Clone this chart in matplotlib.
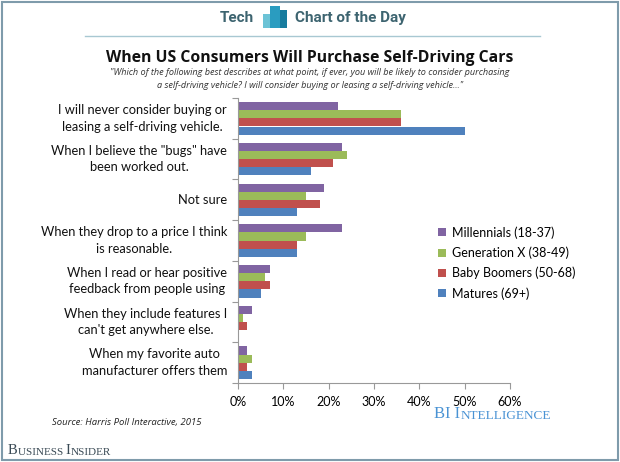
import numpy as np
import matplotlib.pyplot as plt
from matplotlib.patches import Rectangle
from matplotlib.lines import Line2D
import matplotlib.transforms as mtransforms

categories = [
    "I will never consider buying or\nleasing a self-driving vehicle.",
    "When I believe the \"bugs\" have\nbeen worked out.",
    "Not sure",
    "When they drop to a price I think\nis reasonable.",
    "When I read or hear positive\nfeedback from people using",
    "When they include features I\ncan't get anywhere else.",
    "When my favorite auto\nmanufacturer offers them",
]
millennials = [22, 23, 19, 23, 7, 3, 2]
gen_x = [36, 24, 15, 15, 6, 1, 3]
boomers = [36, 21, 18, 13, 7, 2, 2]
matures = [50, 16, 13, 13, 5, 0, 3]
series_names = ["Millennials (18-37)", "Generation X (38-49)",
                "Baby Boomers (50-68)", "Matures (69+)"]
colors = ["#8064A2", "#9BBB59", "#C0504D", "#4F81BD"]
xticks = [0, 10, 20, 30, 40, 50, 60]

W, H = 620, 462
fig = plt.figure(figsize=(W / 100, H / 100), dpi=100)
fig.patch.set_facecolor("white")

def fx(px):
    return px / W

def fy(py):
    return 1 - py / H

# frame around whole image
fig.patches.append(Rectangle((0.003, 0.004), 0.994, 0.992, transform=fig.transFigure,
                             fill=False, edgecolor="#7f9bab", linewidth=1.5))

# header
fig.text(fx(254), fy(18), "Tech", ha="right", va="center", fontsize=11,
         family="Roboto", weight="bold", color="#3d6470")
for dx, top, w, c in [(0, 14, 7, "#6cc3d6"), (7, 6, 10, "#2a9cc0"), (17, 10, 7, "#177c9e")]:
    fig.patches.append(Rectangle((fx(263 + dx), fy(28)), w / W, (28 - top) / H,
                                 transform=fig.transFigure, facecolor=c, edgecolor="none"))
fig.text(fx(295), fy(18), "Chart of the Day", ha="left", va="center", fontsize=11,
         family="Roboto", weight="bold", color="#3d6470")
fig.lines.append(Line2D([fx(85), fx(540)], [fy(36), fy(36)], transform=fig.transFigure,
                        color="#a8c8d2", linewidth=1))

fig.text(fx(310), fy(58), "When US Consumers Will Purchase Self-Driving Cars", ha="center",
         va="center", fontsize=11.3, family="Open Sans", weight="bold", color="#111111")
fig.text(fx(310), fy(79), "\"Which of the following best describes at what point, if ever, you will be likely to consider purchasing\n"
         "a self-driving vehicle? I will consider buying or leasing a self-driving vehicle...\"",
         ha="center", va="center", fontsize=6.6, family="Open Sans", style="italic",
         color="#333333", linespacing=1.5)

ax = fig.add_axes([fx(238), fy(383), fx(510) - fx(238), (383 - 98) / H])
y = np.arange(len(categories))
bar_h = 0.2
for i, (vals, name, c) in enumerate(zip([millennials, gen_x, boomers, matures], series_names, colors)):
    ax.barh(y - 0.3 + i * bar_h, vals, height=bar_h, color=c, label=name)

ax.set_xlim(0, 60)
ax.set_ylim(len(categories) - 0.5, -0.5)
ax.set_xticks(xticks)
ax.set_xticklabels([f"{t}%" for t in xticks], fontsize=9, family="Lato")
ax.set_yticks(np.arange(len(categories) + 1) - 0.5)
ax.set_yticklabels([])
ax.tick_params(axis="y", length=4, color="#999999")
ax.tick_params(axis="x", length=4, color="#999999", pad=5)
for s in ["top", "right"]:
    ax.spines[s].set_visible(False)
for s in ["left", "bottom"]:
    ax.spines[s].set_color("#999999")

# category labels: block right-aligned, lines centred (Excel style)
trans = mtransforms.blended_transform_factory(fig.transFigure, ax.transData)
for i, cat in enumerate(categories):
    ax.text(fx(227), y[i], cat, transform=trans, ha="right", va="center",
            multialignment="center", fontsize=9.3, family="Lato", color="#111111",
            linespacing=1.45)

ax.legend(loc="center left", bbox_to_anchor=(fx(427), fy(263)), bbox_transform=fig.transFigure,
          frameon=False, prop={"family": "Lato", "size": 9}, handlelength=0.6,
          handleheight=0.6, handletextpad=0.5, labelspacing=0.62)

fig.text(fx(52), fy(422), "Source: Harris Poll Interactive, 2015", ha="left", va="center",
         fontsize=6.8, family="Open Sans", style="italic", color="#222222")

# fake small caps for the brand lines, chained with annotate
bi = [("BI I", 12), ("NTELLIGENCE", 9.5)]
prev = fig.text(fx(434), fy(418), bi[0][0], ha="left", va="baseline", fontsize=bi[0][1],
                family="Liberation Serif", color="#4a93d4")
for txt, size in bi[1:]:
    prev = ax.annotate(txt, xy=(1, 0), xycoords=prev, xytext=(0, 0), textcoords="offset points",
                       ha="left", va="bottom", fontsize=size, family="Liberation Serif",
                       color="#4a93d4", annotation_clip=False)

bs = [("B", 10.5), ("USINESS ", 8), ("I", 10.5), ("NSIDER", 8)]
prev = fig.text(fx(8), fy(454), bs[0][0], ha="left", va="baseline", fontsize=bs[0][1],
                family="Liberation Serif", color="#3a4a55")
for txt, size in bs[1:]:
    prev = ax.annotate(txt, xy=(1, 0), xycoords=prev, xytext=(0, 0), textcoords="offset points",
                       ha="left", va="bottom", fontsize=size, family="Liberation Serif",
                       color="#3a4a55", annotation_clip=False)

fig.savefig("out.png", dpi=100)
